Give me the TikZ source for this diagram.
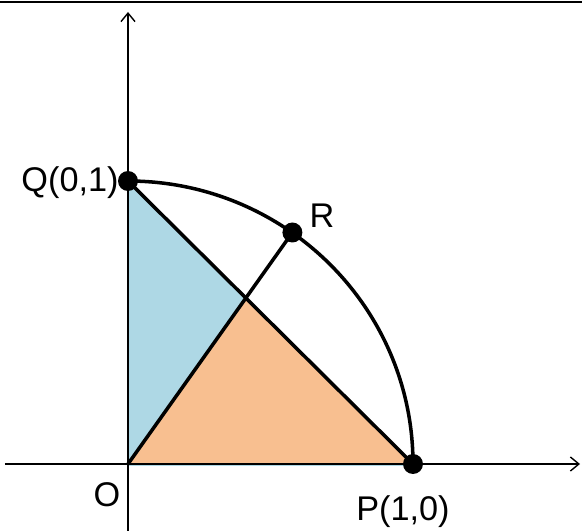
\documentclass[tikz,border=0pt]{standalone}
\usepackage{fontspec}
\setmainfont{Liberation Sans}
\usetikzlibrary{arrows.meta}
\definecolor{light-blue}{RGB}{174,216,229}
\definecolor{light-orange}{RGB}{248,191,144}

\begin{document}
\begin{tikzpicture}
[
  x=0.02cm, y=0.02cm,
  axis/.style={line width=0.8pt,-{Straight Barb[length=0.17cm,width=0.28cm]}},
  edge/.style={line width=2pt},
  dot/.style={circle,fill=black,inner sep=0pt,minimum size=0.4cm},
  lbl/.style={inner sep=0pt,anchor=base,font=\fontsize{19.5}{22}\selectfont},
]
\useasboundingbox (-128,-67) rectangle (454,464);
\draw[line width=1.2pt] (-128,462) -- (454,462);

\coordinate (O) at (0,0);
\coordinate (P) at (285,0);
\coordinate (Q) at (0,283);
\coordinate (R) at (164.4,231.5);
\coordinate (M) at (intersection of O--R and P--Q);

% shaded parts
\fill[light-blue] (O) -- (Q) -- (M) -- cycle;
\fill[light-orange] (O) -- (M) -- (P) -- cycle;
\draw[light-blue,line width=0.8pt] (0,-1.5) -- (285,-1.5);

% axes
\coordinate (xs) at (-123,0);
\coordinate (xe) at (452,0);
\coordinate (ys) at (0,-67);
\coordinate (ye) at (0,452);
\draw[axis] (xs) -- (xe);
\draw[axis] (ys) -- (ye);

% arc and lines
\draw[edge] (P) arc[start angle=0,end angle=90,x radius=285,y radius=283];
\draw[edge] (Q) -- (P);
\draw[edge] (O) -- (R);

\node[dot] (q) at (Q){};
\node[dot] (p) at (P){};
\node[dot] (r) at (R){};

\node[lbl] (lq) at (-58,272){Q(0,1)};
\node[lbl] (lp) at (275,-57){P(1,0)};
\node[lbl] (lr) at (194,236){R};
\node[lbl] (lo) at (-21,-43){O};
\end{tikzpicture}
\end{document}
